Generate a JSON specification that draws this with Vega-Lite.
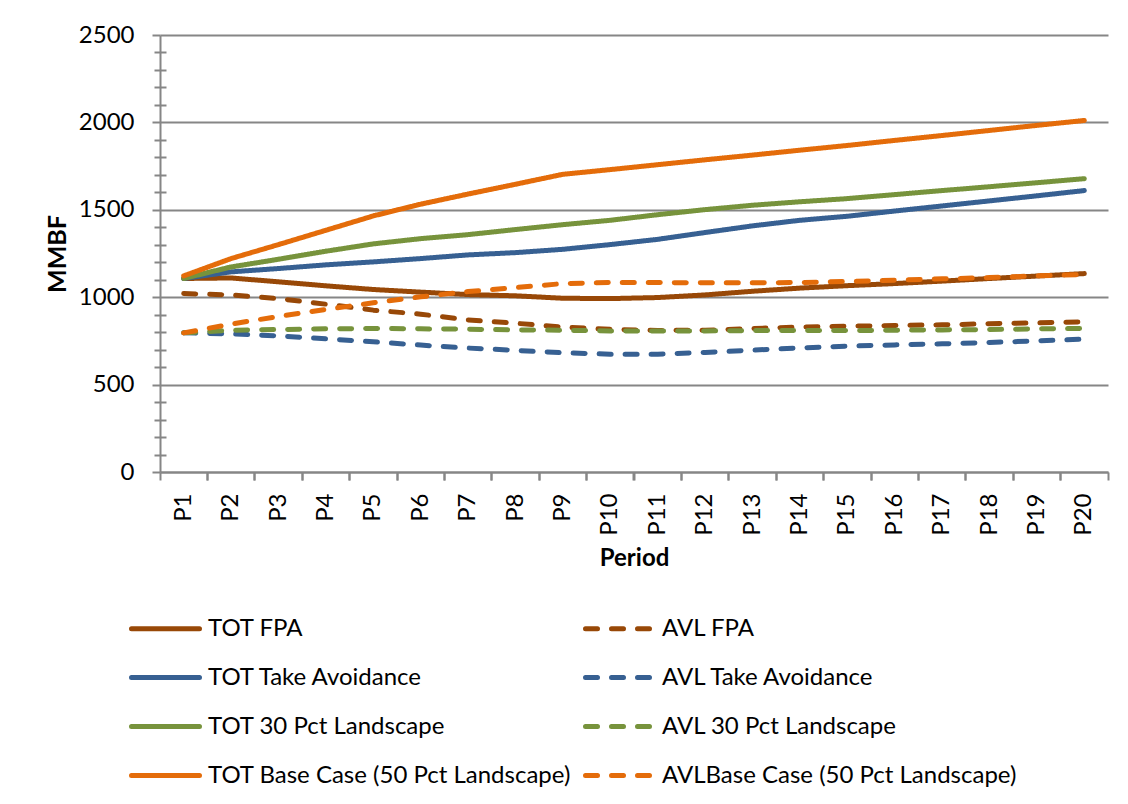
{
  "$schema": "https://vega.github.io/schema/vega-lite/v6.json",
  "width": 948,
  "height": 437,
  "autosize": {"type": "none"},
  "padding": {"left": 160, "top": 35, "right": 20, "bottom": 332},
  "background": "white",
  "config": {
    "view": {"stroke": null},
    "font": "Lato",
    "axis": {"labelColor": "#000000", "titleColor": "#000000", "domainColor": "#868686", "tickColor": "#868686", "gridColor": "#868686"}
  },
  "data": {
    "values": [
      {"period": "P1", "series": "TOT FPA", "value": 1107},
      {"period": "P2", "series": "TOT FPA", "value": 1110},
      {"period": "P3", "series": "TOT FPA", "value": 1088},
      {"period": "P4", "series": "TOT FPA", "value": 1065},
      {"period": "P5", "series": "TOT FPA", "value": 1044},
      {"period": "P6", "series": "TOT FPA", "value": 1029},
      {"period": "P7", "series": "TOT FPA", "value": 1015},
      {"period": "P8", "series": "TOT FPA", "value": 1008},
      {"period": "P9", "series": "TOT FPA", "value": 994},
      {"period": "P10", "series": "TOT FPA", "value": 992},
      {"period": "P11", "series": "TOT FPA", "value": 998},
      {"period": "P12", "series": "TOT FPA", "value": 1013},
      {"period": "P13", "series": "TOT FPA", "value": 1034},
      {"period": "P14", "series": "TOT FPA", "value": 1052},
      {"period": "P15", "series": "TOT FPA", "value": 1066},
      {"period": "P16", "series": "TOT FPA", "value": 1078},
      {"period": "P17", "series": "TOT FPA", "value": 1092},
      {"period": "P18", "series": "TOT FPA", "value": 1107},
      {"period": "P19", "series": "TOT FPA", "value": 1121},
      {"period": "P20", "series": "TOT FPA", "value": 1135},

      {"period": "P1", "series": "AVL FPA", "value": 1021},
      {"period": "P2", "series": "AVL FPA", "value": 1013},
      {"period": "P3", "series": "AVL FPA", "value": 992},
      {"period": "P4", "series": "AVL FPA", "value": 960},
      {"period": "P5", "series": "AVL FPA", "value": 926},
      {"period": "P6", "series": "AVL FPA", "value": 903},
      {"period": "P7", "series": "AVL FPA", "value": 870},
      {"period": "P8", "series": "AVL FPA", "value": 851},
      {"period": "P9", "series": "AVL FPA", "value": 829},
      {"period": "P10", "series": "AVL FPA", "value": 816},
      {"period": "P11", "series": "AVL FPA", "value": 810},
      {"period": "P12", "series": "AVL FPA", "value": 811},
      {"period": "P13", "series": "AVL FPA", "value": 821},
      {"period": "P14", "series": "AVL FPA", "value": 829},
      {"period": "P15", "series": "AVL FPA", "value": 834},
      {"period": "P16", "series": "AVL FPA", "value": 838},
      {"period": "P17", "series": "AVL FPA", "value": 842},
      {"period": "P18", "series": "AVL FPA", "value": 848},
      {"period": "P19", "series": "AVL FPA", "value": 853},
      {"period": "P20", "series": "AVL FPA", "value": 859},

      {"period": "P1", "series": "TOT Take Avoidance", "value": 1107},
      {"period": "P2", "series": "TOT Take Avoidance", "value": 1145},
      {"period": "P3", "series": "TOT Take Avoidance", "value": 1164},
      {"period": "P4", "series": "TOT Take Avoidance", "value": 1185},
      {"period": "P5", "series": "TOT Take Avoidance", "value": 1202},
      {"period": "P6", "series": "TOT Take Avoidance", "value": 1221},
      {"period": "P7", "series": "TOT Take Avoidance", "value": 1242},
      {"period": "P8", "series": "TOT Take Avoidance", "value": 1255},
      {"period": "P9", "series": "TOT Take Avoidance", "value": 1274},
      {"period": "P10", "series": "TOT Take Avoidance", "value": 1301},
      {"period": "P11", "series": "TOT Take Avoidance", "value": 1331},
      {"period": "P12", "series": "TOT Take Avoidance", "value": 1370},
      {"period": "P13", "series": "TOT Take Avoidance", "value": 1408},
      {"period": "P14", "series": "TOT Take Avoidance", "value": 1440},
      {"period": "P15", "series": "TOT Take Avoidance", "value": 1463},
      {"period": "P16", "series": "TOT Take Avoidance", "value": 1493},
      {"period": "P17", "series": "TOT Take Avoidance", "value": 1522},
      {"period": "P18", "series": "TOT Take Avoidance", "value": 1551},
      {"period": "P19", "series": "TOT Take Avoidance", "value": 1580},
      {"period": "P20", "series": "TOT Take Avoidance", "value": 1610},

      {"period": "P1", "series": "AVL Take Avoidance", "value": 796},
      {"period": "P2", "series": "AVL Take Avoidance", "value": 790},
      {"period": "P3", "series": "AVL Take Avoidance", "value": 779},
      {"period": "P4", "series": "AVL Take Avoidance", "value": 762},
      {"period": "P5", "series": "AVL Take Avoidance", "value": 745},
      {"period": "P6", "series": "AVL Take Avoidance", "value": 726},
      {"period": "P7", "series": "AVL Take Avoidance", "value": 709},
      {"period": "P8", "series": "AVL Take Avoidance", "value": 696},
      {"period": "P9", "series": "AVL Take Avoidance", "value": 682},
      {"period": "P10", "series": "AVL Take Avoidance", "value": 674},
      {"period": "P11", "series": "AVL Take Avoidance", "value": 674},
      {"period": "P12", "series": "AVL Take Avoidance", "value": 684},
      {"period": "P13", "series": "AVL Take Avoidance", "value": 697},
      {"period": "P14", "series": "AVL Take Avoidance", "value": 710},
      {"period": "P15", "series": "AVL Take Avoidance", "value": 720},
      {"period": "P16", "series": "AVL Take Avoidance", "value": 727},
      {"period": "P17", "series": "AVL Take Avoidance", "value": 733},
      {"period": "P18", "series": "AVL Take Avoidance", "value": 741},
      {"period": "P19", "series": "AVL Take Avoidance", "value": 750},
      {"period": "P20", "series": "AVL Take Avoidance", "value": 760},

      {"period": "P1", "series": "TOT 30 Pct Landscape", "value": 1107},
      {"period": "P2", "series": "TOT 30 Pct Landscape", "value": 1173},
      {"period": "P3", "series": "TOT 30 Pct Landscape", "value": 1217},
      {"period": "P4", "series": "TOT 30 Pct Landscape", "value": 1263},
      {"period": "P5", "series": "TOT 30 Pct Landscape", "value": 1305},
      {"period": "P6", "series": "TOT 30 Pct Landscape", "value": 1335},
      {"period": "P7", "series": "TOT 30 Pct Landscape", "value": 1358},
      {"period": "P8", "series": "TOT 30 Pct Landscape", "value": 1387},
      {"period": "P9", "series": "TOT 30 Pct Landscape", "value": 1415},
      {"period": "P10", "series": "TOT 30 Pct Landscape", "value": 1440},
      {"period": "P11", "series": "TOT 30 Pct Landscape", "value": 1472},
      {"period": "P12", "series": "TOT 30 Pct Landscape", "value": 1501},
      {"period": "P13", "series": "TOT 30 Pct Landscape", "value": 1526},
      {"period": "P14", "series": "TOT 30 Pct Landscape", "value": 1546},
      {"period": "P15", "series": "TOT 30 Pct Landscape", "value": 1564},
      {"period": "P16", "series": "TOT 30 Pct Landscape", "value": 1587},
      {"period": "P17", "series": "TOT 30 Pct Landscape", "value": 1610},
      {"period": "P18", "series": "TOT 30 Pct Landscape", "value": 1632},
      {"period": "P19", "series": "TOT 30 Pct Landscape", "value": 1655},
      {"period": "P20", "series": "TOT 30 Pct Landscape", "value": 1678},

      {"period": "P1", "series": "AVL 30 Pct Landscape", "value": 796},
      {"period": "P2", "series": "AVL 30 Pct Landscape", "value": 811},
      {"period": "P3", "series": "AVL 30 Pct Landscape", "value": 815},
      {"period": "P4", "series": "AVL 30 Pct Landscape", "value": 819},
      {"period": "P5", "series": "AVL 30 Pct Landscape", "value": 821},
      {"period": "P6", "series": "AVL 30 Pct Landscape", "value": 819},
      {"period": "P7", "series": "AVL 30 Pct Landscape", "value": 817},
      {"period": "P8", "series": "AVL 30 Pct Landscape", "value": 813},
      {"period": "P9", "series": "AVL 30 Pct Landscape", "value": 811},
      {"period": "P10", "series": "AVL 30 Pct Landscape", "value": 807},
      {"period": "P11", "series": "AVL 30 Pct Landscape", "value": 806},
      {"period": "P12", "series": "AVL 30 Pct Landscape", "value": 807},
      {"period": "P13", "series": "AVL 30 Pct Landscape", "value": 809},
      {"period": "P14", "series": "AVL 30 Pct Landscape", "value": 810},
      {"period": "P15", "series": "AVL 30 Pct Landscape", "value": 809},
      {"period": "P16", "series": "AVL 30 Pct Landscape", "value": 811},
      {"period": "P17", "series": "AVL 30 Pct Landscape", "value": 813},
      {"period": "P18", "series": "AVL 30 Pct Landscape", "value": 815},
      {"period": "P19", "series": "AVL 30 Pct Landscape", "value": 819},
      {"period": "P20", "series": "AVL 30 Pct Landscape", "value": 821},

      {"period": "P1", "series": "TOT Base Case (50 Pct Landscape)", "value": 1122},
      {"period": "P2", "series": "TOT Base Case (50 Pct Landscape)", "value": 1221},
      {"period": "P3", "series": "TOT Base Case (50 Pct Landscape)", "value": 1301},
      {"period": "P4", "series": "TOT Base Case (50 Pct Landscape)", "value": 1383},
      {"period": "P5", "series": "TOT Base Case (50 Pct Landscape)", "value": 1465},
      {"period": "P6", "series": "TOT Base Case (50 Pct Landscape)", "value": 1532},
      {"period": "P7", "series": "TOT Base Case (50 Pct Landscape)", "value": 1590},
      {"period": "P8", "series": "TOT Base Case (50 Pct Landscape)", "value": 1646},
      {"period": "P9", "series": "TOT Base Case (50 Pct Landscape)", "value": 1703},
      {"period": "P10", "series": "TOT Base Case (50 Pct Landscape)", "value": 1730},
      {"period": "P11", "series": "TOT Base Case (50 Pct Landscape)", "value": 1758},
      {"period": "P12", "series": "TOT Base Case (50 Pct Landscape)", "value": 1786},
      {"period": "P13", "series": "TOT Base Case (50 Pct Landscape)", "value": 1813},
      {"period": "P14", "series": "TOT Base Case (50 Pct Landscape)", "value": 1841},
      {"period": "P15", "series": "TOT Base Case (50 Pct Landscape)", "value": 1868},
      {"period": "P16", "series": "TOT Base Case (50 Pct Landscape)", "value": 1897},
      {"period": "P17", "series": "TOT Base Case (50 Pct Landscape)", "value": 1925},
      {"period": "P18", "series": "TOT Base Case (50 Pct Landscape)", "value": 1954},
      {"period": "P19", "series": "TOT Base Case (50 Pct Landscape)", "value": 1983},
      {"period": "P20", "series": "TOT Base Case (50 Pct Landscape)", "value": 2011},

      {"period": "P1", "series": "AVLBase Case (50 Pct Landscape)", "value": 796},
      {"period": "P2", "series": "AVLBase Case (50 Pct Landscape)", "value": 846},
      {"period": "P3", "series": "AVLBase Case (50 Pct Landscape)", "value": 890},
      {"period": "P4", "series": "AVLBase Case (50 Pct Landscape)", "value": 930},
      {"period": "P5", "series": "AVLBase Case (50 Pct Landscape)", "value": 968},
      {"period": "P6", "series": "AVLBase Case (50 Pct Landscape)", "value": 1002},
      {"period": "P7", "series": "AVLBase Case (50 Pct Landscape)", "value": 1032},
      {"period": "P8", "series": "AVLBase Case (50 Pct Landscape)", "value": 1055},
      {"period": "P9", "series": "AVLBase Case (50 Pct Landscape)", "value": 1078},
      {"period": "P10", "series": "AVLBase Case (50 Pct Landscape)", "value": 1084},
      {"period": "P11", "series": "AVLBase Case (50 Pct Landscape)", "value": 1084},
      {"period": "P12", "series": "AVLBase Case (50 Pct Landscape)", "value": 1082},
      {"period": "P13", "series": "AVLBase Case (50 Pct Landscape)", "value": 1082},
      {"period": "P14", "series": "AVLBase Case (50 Pct Landscape)", "value": 1084},
      {"period": "P15", "series": "AVLBase Case (50 Pct Landscape)", "value": 1090},
      {"period": "P16", "series": "AVLBase Case (50 Pct Landscape)", "value": 1097},
      {"period": "P17", "series": "AVLBase Case (50 Pct Landscape)", "value": 1105},
      {"period": "P18", "series": "AVLBase Case (50 Pct Landscape)", "value": 1112},
      {"period": "P19", "series": "AVLBase Case (50 Pct Landscape)", "value": 1122},
      {"period": "P20", "series": "AVLBase Case (50 Pct Landscape)", "value": 1130}
    ]
  },
  "resolve": {"axis": {"x": "independent", "y": "independent"}},
  "layer": [
    {
      "mark": {"type": "line", "strokeCap": "round", "strokeJoin": "round"},
      "encoding": {
        "x": {
          "field": "period", "type": "ordinal", "bandPosition": 0.5,
          "scale": {"type": "band", "paddingInner": 0, "paddingOuter": 0,
            "domain": ["P1","P2","P3","P4","P5","P6","P7","P8","P9","P10","P11","P12","P13","P14","P15","P16","P17","P18","P19","P20"]},
          "axis": {
            "orient": "bottom", "title": "Period", "titleFontSize": 24, "titleFontWeight": "bold", "titlePadding": 11,
            "labelAngle": -90, "labelFontSize": 24, "labelPadding": 21, "ticks": false,
            "domainWidth": 2, "grid": false
          }
        },
        "y": {
          "field": "value", "type": "quantitative",
          "scale": {"domain": [0, 2500], "nice": false, "zero": true},
          "axis": {
            "orient": "left", "title": "MMBF", "titleFontSize": 25, "titleFontWeight": "bold", "titlePadding": 8,
            "values": [0, 500, 1000, 1500, 2000, 2500], "format": "d", "labelFontSize": 24, "labelPadding": 18,
            "tickSize": 8, "tickWidth": 2, "domainWidth": 2, "grid": true, "gridWidth": 2
          }
        },
        "color": {
          "field": "series", "type": "nominal",
          "scale": {
            "domain": ["TOT FPA", "TOT Take Avoidance", "TOT 30 Pct Landscape", "TOT Base Case (50 Pct Landscape)", "AVL FPA", "AVL Take Avoidance", "AVL 30 Pct Landscape", "AVLBase Case (50 Pct Landscape)"],
            "range": ["#984807", "#376092", "#77933c", "#e46c0a", "#984807", "#376092", "#77933c", "#e46c0a"]
          },
          "legend": {
            "orient": "none", "legendX": -31, "legendY": 557, "columns": 2, "title": null,
            "symbolType": "stroke", "symbolSize": 4624, "labelFontSize": 24, "labelColor": "#000000",
            "labelOffset": 6, "rowPadding": 0, "columnPadding": 3, "labelLimit": 500,
            "encode": {"symbols": {"update": {"strokeCap": {"value": "round"}}}}
          }
        },
        "strokeDash": {
          "field": "series", "type": "nominal",
          "scale": {
            "domain": ["TOT FPA", "TOT Take Avoidance", "TOT 30 Pct Landscape", "TOT Base Case (50 Pct Landscape)", "AVL FPA", "AVL Take Avoidance", "AVL 30 Pct Landscape", "AVLBase Case (50 Pct Landscape)"],
            "range": [[1, 0], [1, 0], [1, 0], [1, 0], [12, 14], [12, 14], [12, 14], [12, 14]]
          }
        },
        "strokeWidth": {
          "field": "series", "type": "nominal",
          "scale": {
            "domain": ["TOT FPA", "TOT Take Avoidance", "TOT 30 Pct Landscape", "TOT Base Case (50 Pct Landscape)", "AVL FPA", "AVL Take Avoidance", "AVL 30 Pct Landscape", "AVLBase Case (50 Pct Landscape)"],
            "range": [5, 5, 5, 5, 3.5, 3.5, 3.5, 3.5]
          }
        }
      }
    },
    {
      "mark": {"type": "point", "opacity": 0},
      "encoding": {
        "x": {
          "field": "period", "type": "ordinal",
          "axis": {"orient": "bottom", "title": null, "labels": false, "domain": false, "grid": false,
            "bandPosition": 0, "tickSize": 8, "tickWidth": 2}
        },
        "y": {
          "field": "value", "type": "quantitative",
          "axis": {"orient": "left", "title": null, "labels": false, "domain": false, "grid": false,
            "values": [100, 200, 300, 400, 600, 700, 800, 900, 1100, 1200, 1300, 1400, 1600, 1700, 1800, 1900, 2100, 2200, 2300, 2400],
            "tickSize": 12, "tickWidth": 2, "offset": -6}
        }
      }
    },
    {
      "mark": {"type": "point", "opacity": 0},
      "encoding": {
        "x": {
          "field": "period", "type": "ordinal",
          "axis": {"orient": "bottom", "title": null, "labels": false, "domain": false, "grid": false,
            "bandPosition": 1, "tickSize": 8, "tickWidth": 2}
        },
        "y": {"field": "value", "type": "quantitative", "axis": null}
      }
    }
  ]
}
